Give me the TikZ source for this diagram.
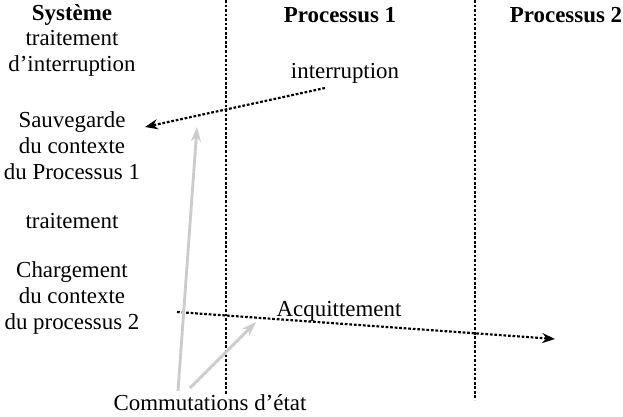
\documentclass[tikz,border=0pt]{standalone}
\usepackage{fontspec}
\setmainfont{Liberation Serif}
\usetikzlibrary{arrows.meta}

\tikzset{
  lbl/.style={align=center, inner sep=0pt, font=\fontsize{12.6}{14.3}\selectfont},
  head/.style={lbl, font=\fontsize{12.6}{14.3}\selectfont\bfseries},
  sep/.style={line width=1.2pt, dash pattern=on 1.5pt off 1pt},
  msg/.style={line width=1.2pt, dash pattern=on 1.5pt off 1pt, -{Stealth[length=7pt,width=5.5pt]}},
  swap/.style={line width=1.6pt, draw=black!20, -{Stealth[length=8pt,width=5.5pt]}}
}

\begin{document}
\begin{tikzpicture}[x=0.55pt,y=-0.55pt]
		\useasboundingbox (0,0) rectangle (623,416);
		%draw vertical lines
		\foreach \x/\y in {226/395, 475/400}{
			\draw[sep] (\x,0) -- (\x,\y);
		}
		%draw headers
		\node[head] (sys) at (72,15) {Système};
		\node[head] (p1) at (340,15) {Processus 1};
		\node[head] (p2) at (566,15) {Processus 2};
		%draw system steps
		\node[lbl] (trint) at (72,53) {traitement\\d’interruption};
		\node[lbl] (sauv) at (72,146) {Sauvegarde\\du contexte\\du Processus 1};
		\node[lbl] (trait) at (72,221) {traitement};
		\node[lbl] (charg) at (72,298) {Chargement\\du contexte\\du processus 2};
		%draw messages
		\node[lbl] (intr) at (345,73) {interruption};
		\node[lbl] (acq) at (339,311) {Acquittement};
		\node[lbl] (comm) at (210,403) {Commutations d’état};
		\coordinate (intrA) at (325,88);
		\coordinate (intrB) at (145,127);
		\coordinate (acqA) at (177,312);
		\coordinate (acqB) at (555,339);
		\draw[msg] (intrA) -- (intrB);
		\draw[msg] (acqA) -- (acqB);
		%draw state switches
		\coordinate (comA) at (178,391);
		\coordinate (comB) at (190,388);
		\draw[swap] (comA) -- (197,127);
		\draw[swap] (comB) -- (256,322);
\end{tikzpicture}
\end{document}
